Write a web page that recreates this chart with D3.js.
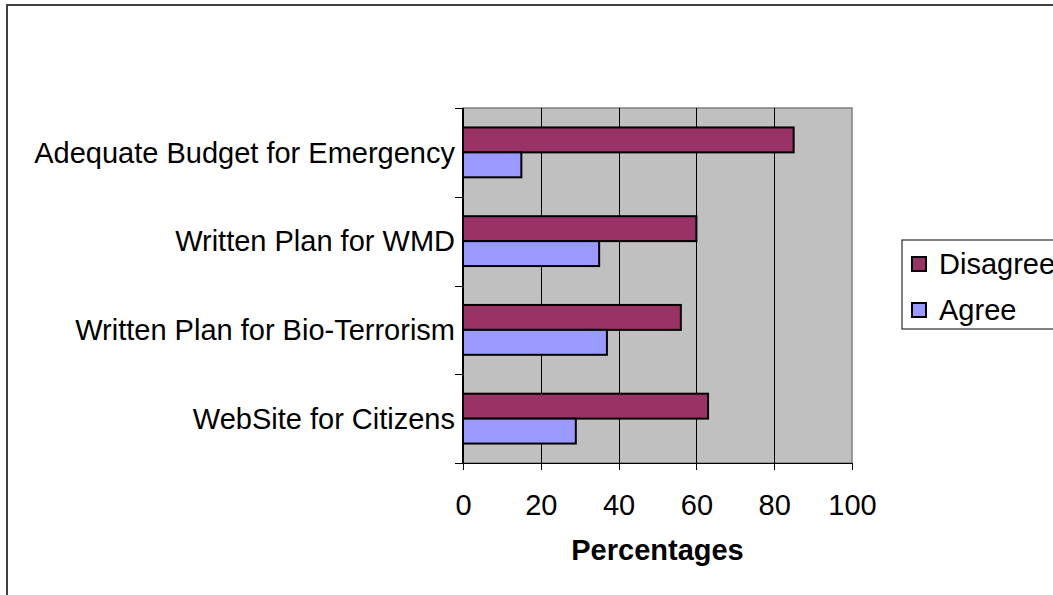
<!DOCTYPE html>
<html>
  <head>
    <meta http-equiv="Content-Type" content="text/html;charset=utf-8"/>
    <style type="text/css">
body {
  margin: 0;
  background: #fff;
  overflow: hidden;
}
svg {
  font-family: "Liberation Sans", Arial, sans-serif;
  font-size: 29px;
}
.grid line {
  stroke: #000;
  stroke-width: 1px;
  shape-rendering: crispEdges;
}
.axis path, .axis line {
  stroke: #000;
  shape-rendering: crispEdges;
}
.axis text {
  fill: #000;
}
    </style>
  </head>
  <body>
    <svg></svg>
    <script type="text/javascript" src="https://cdn.jsdelivr.net/npm/d3@7/dist/d3.min.js"></script>
    <script type="text/javascript">

// data
var categories = ["Adequate Budget for Emergency", "Written Plan for WMD",
                  "Written Plan for Bio-Terrorism", "WebSite for Citizens"];
var series = ["Disagree", "Agree"];
var disagree = [85, 60, 56, 63];
var agree = [15, 35, 37, 29];
var xTicks = [0, 20, 40, 60, 80, 100];
var colors = {Disagree: "#993366", Agree: "#9999FF"};

var W = 1053, H = 595;
var m = {top: 108, right: 201, bottom: 132, left: 463};
var w = 852 - m.left, h = 463 - m.top;

var svg = d3.select("svg").attr("width", W).attr("height", H);

// outer chart border (runs off the page right and bottom)
svg.append("rect")
    .attr("x", 7).attr("y", 5)
    .attr("width", 1200).attr("height", 800)
    .attr("fill", "none")
    .attr("stroke", "#404040")
    .attr("stroke-width", 2);

var g = svg.append("g").attr("transform", "translate(" + m.left + "," + m.top + ")");

var x = d3.scaleLinear().domain([0, 100]).range([0, w]);
var y = d3.scaleBand().domain(categories).range([0, h]).padding(0);
var ys = d3.scaleBand().domain(series).range([0, y.step()]).paddingInner(0).paddingOuter(0.78);

// plot area
g.append("rect")
    .attr("width", w).attr("height", h)
    .attr("fill", "#C0C0C0")
    .attr("stroke", "#808080")
    .attr("stroke-width", 1.5);

// vertical gridlines
g.append("g").attr("class", "grid")
  .selectAll("line")
    .data(xTicks.slice(1, -1))
  .enter().append("line")
    .attr("x1", function(d) { return Math.round(x(d)) + 0.5; })
    .attr("x2", function(d) { return Math.round(x(d)) + 0.5; })
    .attr("y1", 0).attr("y2", h);

// bars
var rows = categories.map(function(c, i) {
  return {cat: c, values: [{s: "Disagree", v: disagree[i]}, {s: "Agree", v: agree[i]}]};
});

var grp = g.selectAll("g.cat")
    .data(rows)
  .enter().append("g")
    .attr("class", "cat")
    .attr("transform", function(d) { return "translate(0," + y(d.cat) + ")"; });

grp.selectAll("rect")
    .data(function(d) { return d.values; })
  .enter().append("rect")
    .attr("x", 0)
    .attr("y", function(d) { return ys(d.s); })
    .attr("width", function(d) { return x(d.v); })
    .attr("height", ys.bandwidth())
    .attr("fill", function(d) { return colors[d.s]; })
    .attr("stroke", "#000")
    .attr("stroke-width", 2);

// y axis: ticks on the category boundaries, labels at band centres
var yAxisG = g.append("g").attr("class", "axis");
yAxisG.append("line").attr("x1", 0).attr("x2", 0).attr("y1", 0).attr("y2", h)
    .attr("stroke-width", 1.5);
yAxisG.selectAll("line.tick")
    .data(d3.range(categories.length + 1))
  .enter().append("line")
    .attr("class", "tick")
    .attr("x1", -8).attr("x2", 0)
    .attr("y1", function(i) { return Math.round(i * y.step()) + 0.5; })
    .attr("y2", function(i) { return Math.round(i * y.step()) + 0.5; });
yAxisG.selectAll("text")
    .data(categories)
  .enter().append("text")
    .attr("x", -8)
    .attr("y", function(d) { return y(d) + y.bandwidth() / 2; })
    .attr("dy", "0.35em")
    .attr("text-anchor", "end")
    .text(String);

// x axis
var xAxis = d3.axisBottom(x).tickValues(xTicks).tickSize(7).tickPadding(24);
var xAxisG = g.append("g")
    .attr("class", "axis")
    .attr("transform", "translate(0," + h + ")")
    .call(xAxis);
xAxisG.select(".domain").attr("stroke-width", 1.5);
xAxisG.selectAll("text").style("font-size", "29px").style("font-family", null);

g.append("text")
    .attr("x", w / 2)
    .attr("y", h + 97)
    .attr("text-anchor", "middle")
    .attr("font-weight", "bold")
    .text("Percentages");

// legend
var lg = svg.append("g").attr("transform", "translate(902,240)");
lg.append("rect")
    .attr("width", 200).attr("height", 89)
    .attr("fill", "#fff")
    .attr("stroke", "#000")
    .attr("stroke-width", 1);

var item = lg.selectAll("g.item")
    .data(series)
  .enter().append("g")
    .attr("class", "item")
    .attr("transform", function(d, i) { return "translate(10," + (17 + i * 46) + ")"; });

item.append("rect")
    .attr("width", 14).attr("height", 14)
    .attr("fill", function(d) { return colors[d]; })
    .attr("stroke", "#000")
    .attr("stroke-width", 2);

item.append("text")
    .attr("x", 27)
    .attr("y", 7)
    .attr("dy", "0.35em")
    .text(String);

    </script>
  </body>
</html>
